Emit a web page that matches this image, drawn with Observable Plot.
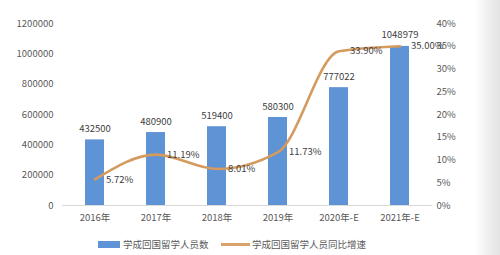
<!DOCTYPE html>
<html><head><meta charset="utf-8">
<script src="https://cdn.jsdelivr.net/npm/d3@7"></script>
<script src="https://cdn.jsdelivr.net/npm/@observablehq/plot@0.6"></script>
<style>
html,body{margin:0;padding:0;}
body{width:500px;height:255px;position:relative;overflow:hidden;background:linear-gradient(to right,#fff 0%,#fff 95%,#ececec 98%,#e4e4e4 100%);font-family:"Noto Sans CJK SC","Liberation Sans",sans-serif;}
#chart{position:absolute;left:0;top:0;}
#legend{position:absolute;left:0;top:236px;width:500px;height:16px;font-size:9.5px;color:#595959;}
.sw{position:absolute;}
.lt{position:absolute;top:0;line-height:16px;white-space:nowrap;}
</style></head>
<body>
<div id="chart"></div>
<div id="legend">
  <div class="sw" style="left:98px;top:5px;width:22px;height:7px;background:#5E93D6"></div>
  <div class="lt" style="left:123px">学成回国留学人员数</div>
  <div class="sw" style="left:221px;top:7px;width:29px;height:3px;background:#D9A36B"></div>
  <div class="lt" style="left:252px">学成回国留学人员同比增速</div>
</div>
<script>
const years = ["2016年","2017年","2018年","2019年","2020年-E","2021年-E"];
const returnees = [432500, 480900, 519400, 580300, 777022, 1048979];
const growth = [5.72, 11.19, 8.01, 11.73, 33.90, 35.00];
const leftTicks = [0, 200000, 400000, 600000, 800000, 1000000, 1200000];
const rightTicks = [0, 5, 10, 15, 20, 25, 30, 35, 40];
const leftMax = 1200000, rightMax = 40;
const toLeft = p => p / rightMax * leftMax;

const data = years.map((y, i) => ({year: y, value: returnees[i], growth: growth[i], gy: toLeft(growth[i])}));

const fontFam = '"Noto Sans CJK SC","Liberation Sans",sans-serif';
const chart = Plot.plot({
  width: 500, height: 232,
  marginLeft: 62, marginRight: 68, marginTop: 23, marginBottom: 27,
  style: {fontFamily: fontFam, fontSize: "9.5px", color: "#595959", background: "transparent"},
  x: {domain: years, paddingInner: 0.69, paddingOuter: 0.345, label: null},
  y: {domain: [0, leftMax], label: null},
  marks: [
    Plot.axisX({tickSize: 0, tickPadding: 9, fill: "#595959", fontSize: 9.5}),
    Plot.axisY({ticks: leftTicks, tickSize: 0, tickPadding: 9, tickFormat: d => String(d), fill: "#595959", fontSize: 9.5}),
    Plot.axisY({anchor: "right", ticks: rightTicks.map(toLeft), tickSize: 0, tickPadding: 4,
      tickFormat: d => Math.round(d / leftMax * rightMax) + "%", fill: "#595959", fontSize: 9.5}),
    Plot.barY(data, {x: "year", y: "value", fill: "#5E93D6"}),
    Plot.ruleY([0], {stroke: "#d9d9d9", strokeWidth: 1}),
    Plot.line(data, {x: "year", y: "gy", stroke: "#D49A5E", strokeWidth: 2.6, curve: "monotone-x"}),
    Plot.text(data, {x: "year", y: "value", text: d => String(d.value), dy: -11, fill: "#404040", fontSize: 9.5}),
    Plot.text(data, {x: "year", y: "gy", text: d => d.growth.toFixed(2) + "%", dx: 11, textAnchor: "start", fill: "#404040", fontSize: 9.5})
  ]
});
document.getElementById("chart").appendChild(chart);
</script>
</body></html>
